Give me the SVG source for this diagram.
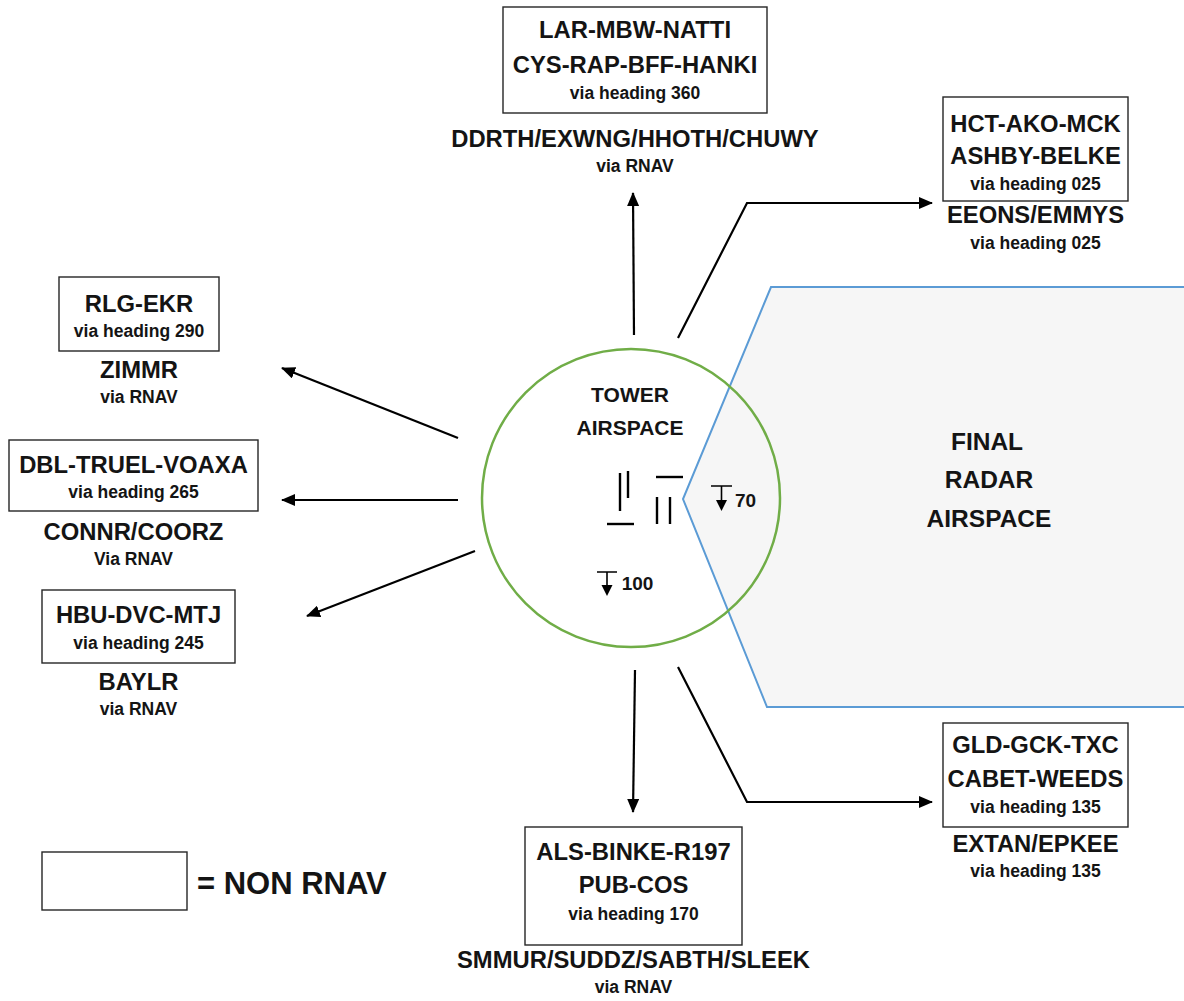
<svg xmlns="http://www.w3.org/2000/svg" width="1184" height="1001" viewBox="0 0 1184 1001">
<style>
  text { font-family: "Liberation Sans", Arial, sans-serif; font-weight: bold; fill: #141414; text-anchor: middle; }
  .big { font-size: 23.8px; }
  .small { font-size: 17.5px; }
  .box { fill: #ffffff; stroke: #262626; stroke-width: 1.4; }
  .conn { fill: none; stroke: #000000; stroke-width: 2.2; marker-end: url(#arrow); }
  .rwy { stroke: #000000; stroke-width: 2.4; fill: none; }
</style>
<defs>
  <marker id="arrow" markerUnits="userSpaceOnUse" markerWidth="14" markerHeight="12" viewBox="0 0 14 12" refX="13" refY="6" orient="auto">
    <path d="M0,0 L14,6 L0,12 z" fill="#000000"/>
  </marker>
</defs>
<rect x="0" y="0" width="1184" height="1001" fill="#ffffff"/>

<g id="final-radar-airspace">
  <polygon points="771,287 1190,287 1190,707 767,707 683,499" fill="#f6f6f6" stroke="#5b9bd5" stroke-width="2"/>
  <text x="987" y="450" style="font-size:24.5px">FINAL</text>
  <text x="989" y="488" style="font-size:24.5px">RADAR</text>
  <text x="989" y="527" style="font-size:24.5px">AIRSPACE</text>
</g>

<g id="tower-airspace">
  <circle cx="631" cy="498" r="149" fill="none" stroke="#70ad47" stroke-width="2.5"/>
  <text x="630" y="402" style="font-size:21px">TOWER</text>
  <text x="630" y="435" style="font-size:21px">AIRSPACE</text>
  <g id="runways">
    <line class="rwy" x1="620" y1="473" x2="620" y2="511"/>
    <line class="rwy" x1="628" y1="471" x2="628" y2="498"/>
    <line class="rwy" x1="607" y1="524" x2="634" y2="524"/>
    <line class="rwy" x1="656" y1="477" x2="683" y2="477"/>
    <line class="rwy" x1="657" y1="497" x2="657" y2="524"/>
    <line class="rwy" x1="670" y1="497" x2="670" y2="524"/>
  </g>
  <g id="alt-70">
    <path d="M711,486 H732 M721.5,486 V502" stroke="#000" stroke-width="1.6" fill="none"/>
    <polygon points="716,500 727,500 721.5,511" fill="#000"/>
    <text x="745.5" y="507" style="font-size:19px">70</text>
  </g>
  <g id="alt-100">
    <path d="M597,572 H617 M607,572 V587" stroke="#000" stroke-width="1.6" fill="none"/>
    <polygon points="601.5,585 612.5,585 607,596" fill="#000"/>
    <text x="637.5" y="590" style="font-size:19px">100</text>
  </g>
</g>

<g id="connectors">
  <path class="conn" d="M634,335 L633,193"/>
  <path class="conn" d="M678,338 L747,203 L932,203"/>
  <path class="conn" d="M458,438 L282,368"/>
  <path class="conn" d="M458,500 L282,500"/>
  <path class="conn" d="M475,551 L307,616"/>
  <path class="conn" d="M635,670 L633,812"/>
  <path class="conn" d="M678,667 L747,802 L932,802"/>
</g>

<g id="north">
  <rect class="box" x="503" y="7" width="264" height="106"/>
  <text class="big" x="635" y="38">LAR-MBW-NATTI</text>
  <text class="big" x="635" y="73">CYS-RAP-BFF-HANKI</text>
  <text class="small" x="635" y="99">via heading 360</text>
  <text class="big" x="635" y="147">DDRTH/EXWNG/HHOTH/CHUWY</text>
  <text class="small" x="635" y="172">via RNAV</text>
</g>

<g id="northeast">
  <rect class="box" x="943" y="97" width="185" height="104"/>
  <text class="big" x="1035.5" y="132">HCT-AKO-MCK</text>
  <text class="big" x="1035.5" y="164">ASHBY-BELKE</text>
  <text class="small" x="1035.5" y="190">via heading 025</text>
  <text class="big" x="1035.5" y="223">EEONS/EMMYS</text>
  <text class="small" x="1035.5" y="249">via heading 025</text>
</g>

<g id="west-290">
  <rect class="box" x="59" y="277" width="160" height="74"/>
  <text class="big" x="139" y="312">RLG-EKR</text>
  <text class="small" x="139" y="337">via heading 290</text>
  <text class="big" x="139" y="378">ZIMMR</text>
  <text class="small" x="139" y="403">via RNAV</text>
</g>

<g id="west-265">
  <rect class="box" x="9" y="440" width="249" height="71"/>
  <text class="big" x="133.5" y="473">DBL-TRUEL-VOAXA</text>
  <text class="small" x="133.5" y="498">via heading 265</text>
  <text class="big" x="133.5" y="540">CONNR/COORZ</text>
  <text class="small" x="133.5" y="565">Via RNAV</text>
</g>

<g id="west-245">
  <rect class="box" x="42" y="590" width="193" height="73"/>
  <text class="big" x="138.5" y="623">HBU-DVC-MTJ</text>
  <text class="small" x="138.5" y="649">via heading 245</text>
  <text class="big" x="138.5" y="690">BAYLR</text>
  <text class="small" x="138.5" y="715">via RNAV</text>
</g>

<g id="south">
  <rect class="box" x="525" y="827" width="217" height="118"/>
  <text class="big" x="633.5" y="860">ALS-BINKE-R197</text>
  <text class="big" x="633.5" y="893">PUB-COS</text>
  <text class="small" x="633.5" y="920">via heading 170</text>
  <text class="big" x="633.5" y="968">SMMUR/SUDDZ/SABTH/SLEEK</text>
  <text class="small" x="633.5" y="993">via RNAV</text>
</g>

<g id="southeast">
  <rect class="box" x="943" y="723" width="185" height="104"/>
  <text class="big" x="1035.5" y="753">GLD-GCK-TXC</text>
  <text class="big" x="1035.5" y="787">CABET-WEEDS</text>
  <text class="small" x="1035.5" y="813">via heading 135</text>
  <text class="big" x="1035.5" y="852">EXTAN/EPKEE</text>
  <text class="small" x="1035.5" y="877">via heading 135</text>
</g>

<g id="legend">
  <rect class="box" x="42" y="852" width="145" height="58"/>
  <text x="197" y="894" style="font-size:31px; text-anchor:start">= NON RNAV</text>
</g>
</svg>
